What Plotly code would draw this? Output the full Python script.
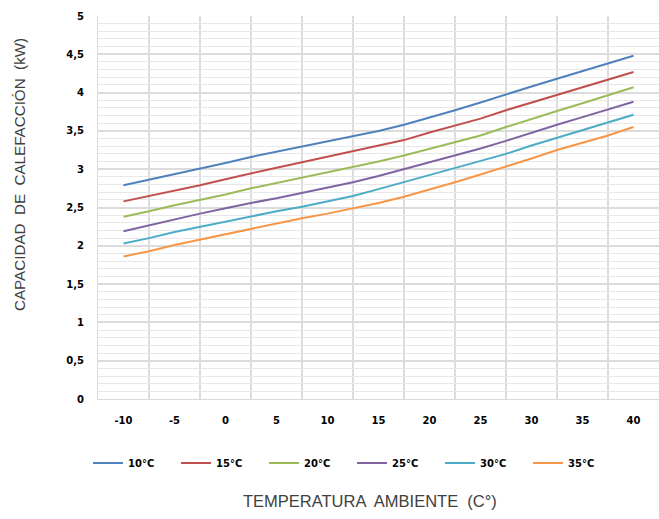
import plotly.graph_objects as go

temps = [-10, -7.5, -5, -2.5, 0, 2.5, 5, 7.5, 10, 12.5, 15, 17.5, 20, 22.5, 25, 27.5, 30, 32.5, 35, 37.5, 40]

s10 = [2.79, 2.86, 2.94, 3.01, 3.08, 3.16, 3.23, 3.30, 3.36, 3.43, 3.50, 3.58, 3.67, 3.77, 3.87, 3.98, 4.08, 4.18, 4.28, 4.38, 4.48]
s15 = [2.58, 2.65, 2.72, 2.79, 2.87, 2.95, 3.02, 3.09, 3.16, 3.23, 3.30, 3.38, 3.48, 3.57, 3.66, 3.77, 3.87, 3.97, 4.07, 4.17, 4.27]
s20 = [2.38, 2.45, 2.53, 2.60, 2.67, 2.75, 2.82, 2.89, 2.96, 3.03, 3.10, 3.18, 3.27, 3.36, 3.44, 3.55, 3.66, 3.76, 3.86, 3.96, 4.07]
s25 = [2.19, 2.27, 2.34, 2.42, 2.49, 2.56, 2.62, 2.69, 2.76, 2.83, 2.91, 3.00, 3.10, 3.19, 3.27, 3.37, 3.48, 3.58, 3.68, 3.78, 3.88]
s30 = [2.03, 2.10, 2.18, 2.25, 2.31, 2.38, 2.45, 2.51, 2.58, 2.65, 2.74, 2.83, 2.92, 3.01, 3.10, 3.20, 3.31, 3.41, 3.51, 3.60, 3.71]
s35 = [1.86, 1.93, 2.01, 2.08, 2.15, 2.22, 2.29, 2.36, 2.42, 2.49, 2.56, 2.64, 2.73, 2.83, 2.93, 3.03, 3.14, 3.25, 3.34, 3.44, 3.55]

series_names = ["10°C", "15°C", "20°C", "25°C", "30°C", "35°C"]
series_values = [s10, s15, s20, s25, s30, s35]
colors = ["#4F81BD", "#C0504D", "#9BBB59", "#8064A2", "#4BACC6", "#F79646"]

x_ticks = [-10, -5, 0, 5, 10, 15, 20, 25, 30, 35, 40]
x_ticktext = ["-10", "-5", "0", "5", "10", "15", "20", "25", "30", "35", "40"]
y_ticks = [0, 0.5, 1, 1.5, 2, 2.5, 3, 3.5, 4, 4.5, 5]
y_ticktext = ["0", "0,5", "1", "1,5", "2", "2,5", "3", "3,5", "4", "4,5", "5"]

fig = go.Figure()
for name, vals, col in zip(series_names, series_values, colors):
    fig.add_trace(go.Scatter(x=temps, y=vals, mode="lines", name=name,
                             line=dict(color=col, width=2)))

tickfont = dict(family="DejaVu Sans", size=10, color="black", weight="bold")
narrow = "Liberation Sans Narrow, Liberation Sans, Arial Narrow, sans-serif"

L, R, T, B = 98, 0, 16, 120
W, H = 659, 519
pw = W - L - R
ph = H - T - B

def px_x(px):
    return (px - L) / pw

def px_y(py):
    return (H - B - py) / ph

fig.update_layout(
    width=W, height=H,
    margin=dict(l=L, r=R, t=T, b=B, autoexpand=False),
    paper_bgcolor="white", plot_bgcolor="white",
    showlegend=True,
    legend=dict(orientation="h", x=px_x(88), xanchor="left", y=px_y(463), yanchor="middle",
                font=dict(family="DejaVu Sans", size=10, color="black", weight="bold"),
                entrywidth=43, entrywidthmode="pixels", itemwidth=30,
                tracegroupgap=0, bgcolor="rgba(0,0,0,0)"),
    xaxis=dict(range=[-12.5, 42.5], tickvals=x_ticks, ticktext=x_ticktext, showgrid=False,
               tickfont=tickfont, ticks="", zeroline=False,
               showline=True, linecolor="#d9d9d9", linewidth=1,
               ticklabelstandoff=12,
               minor=dict(tick0=-12.5, dtick=5, showgrid=True,
                          gridcolor="#dcdcdc", gridwidth=2)),
    yaxis=dict(range=[0, 5], tickvals=y_ticks, ticktext=y_ticktext,
               showgrid=True, gridcolor="#dcdcdc", gridwidth=2,
               tickfont=tickfont, ticks="", zeroline=False,
               showline=True, linecolor="#d9d9d9", linewidth=1,
               ticklabelstandoff=11,
               minor=dict(dtick=0.1, showgrid=True, gridcolor="#e8e8e8", gridwidth=1)),
    annotations=[
        dict(text="CAPACIDAD  DE  CALEFACCIÓN  (kW)", x=px_x(19), y=px_y(175),
             xref="paper", yref="paper", showarrow=False, textangle=-90,
             xanchor="center", yanchor="middle",
             font=dict(family=narrow, size=15.2, color="#404040")),
        dict(text="TEMPERATURA  AMBIENTE  (C°)", x=px_x(370), y=px_y(501),
             xref="paper", yref="paper", showarrow=False,
             xanchor="center", yanchor="middle",
             font=dict(family=narrow, size=16.5, color="#404040")),
    ],
)

fig.write_html("out.html", config={"displayModeBar": False},
               post_script="document.body.style.margin='0';")
